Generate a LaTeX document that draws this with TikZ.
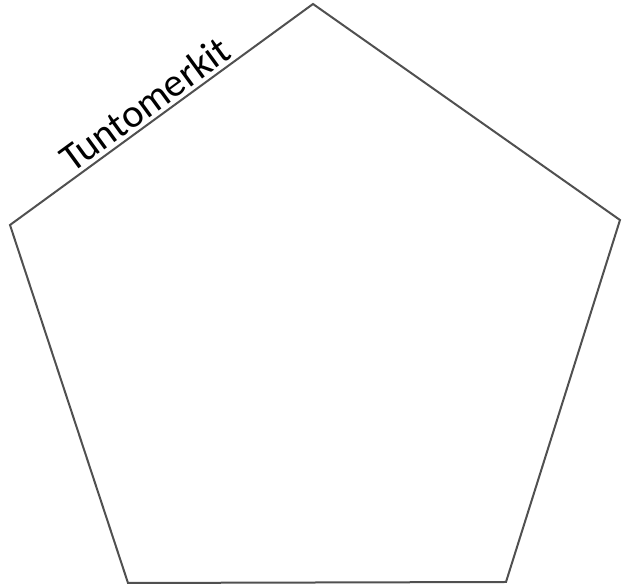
\documentclass[tikz,border=0pt]{standalone}
\usepackage{fontspec}
\setmainfont{Carlito}
\definecolor{edgegray}{RGB}{80,80,80}

\begin{document}
\begin{tikzpicture}[x=1pt,y=1pt,
  edge/.style={draw=edgegray,line width=2pt,line join=miter},
  tag/.style={font=\fontsize{40}{44}\selectfont,text=black,sloped,above}]
  \useasboundingbox (0,0) rectangle (630,586);
  \coordinate (top) at (313,582);
  \coordinate (left) at (10,361);
  \coordinate (right) at (620,366);
  \coordinate (botleft) at (128,3);
  \coordinate (botright) at (506,4);
  \draw[edge] (left) -- node[tag,pos=0.48] (label) {Tuntomerkit} (top)
    -- (right) -- (botright) -- (botleft) -- cycle;
\end{tikzpicture}
\end{document}
